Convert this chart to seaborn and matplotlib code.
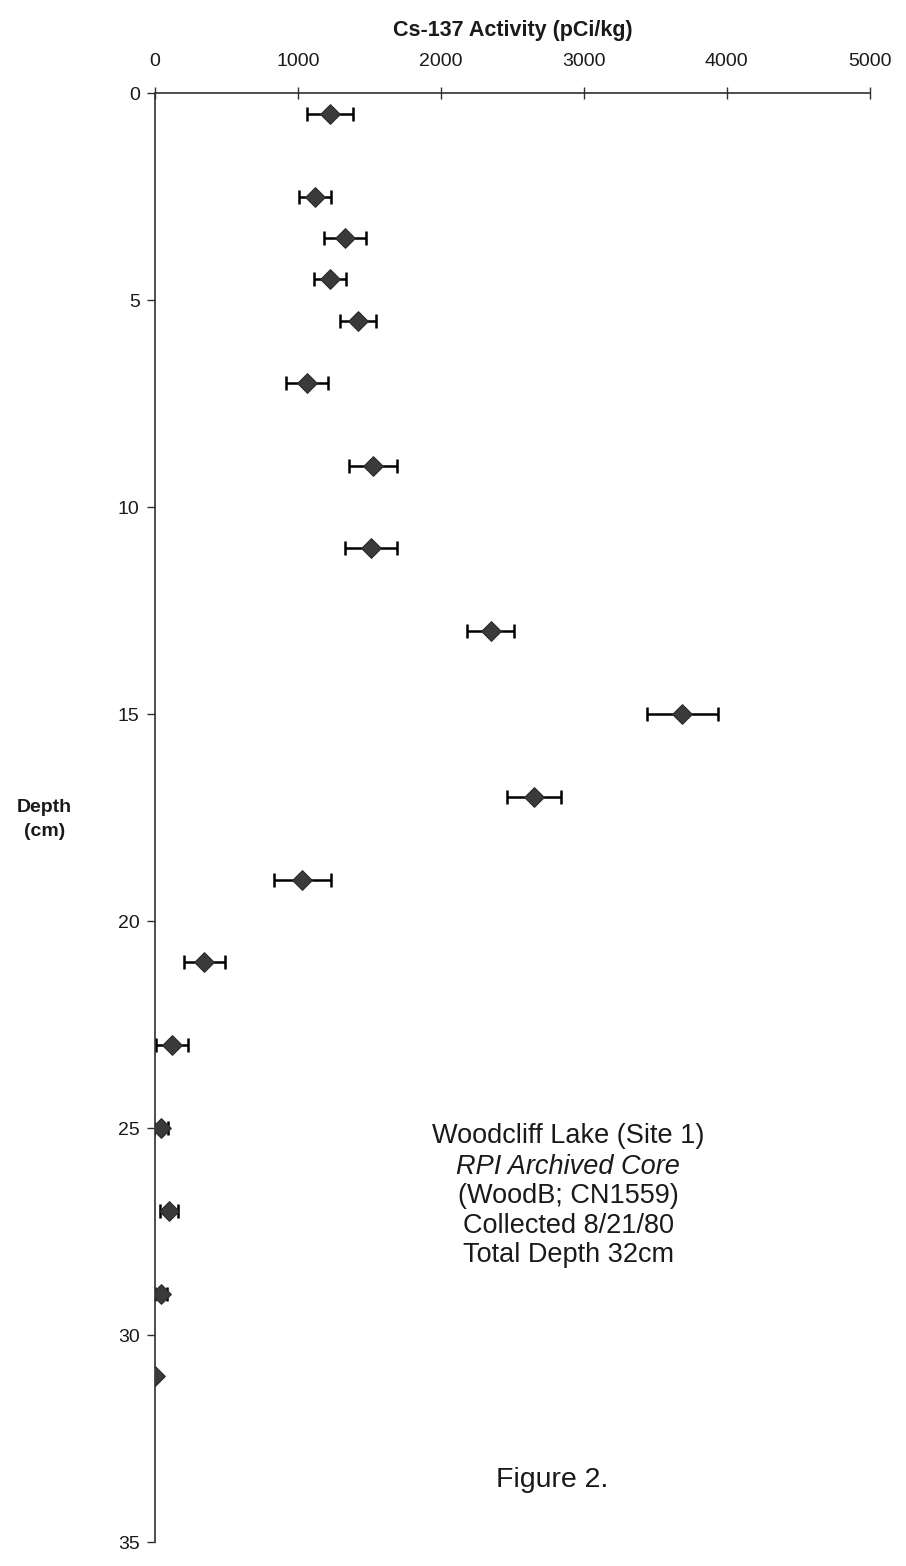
import matplotlib
matplotlib.use("Agg")
import matplotlib.pyplot as plt
import seaborn as sns
import pandas as pd

# Cs-137 activity profile for the Woodcliff Lake core
depth_cm = [0.5, 2.5, 3.5, 4.5, 5.5, 7.0, 9.0, 11.0, 13.0, 15.0, 17.0, 19.0,
            21.0, 23.0, 25.0, 27.0, 29.0, 31.0]
activity = [1225, 1120, 1330, 1225, 1420, 1065, 1525, 1510, 2350, 3690, 2650,
            1030, 345, 120, 42, 98, 42, 0]
activity_err = [160, 110, 145, 110, 125, 145, 170, 180, 165, 250, 190, 200,
                145, 110, 50, 60, 40, 10]

x_ticks = [0, 1000, 2000, 3000, 4000, 5000]
y_ticks = [0, 5, 10, 15, 20, 25, 30, 35]

note_lines = ["Woodcliff Lake (Site 1)", "RPI Archived Core", "(WoodB; CN1559)",
              "Collected 8/21/80", "Total Depth 32cm"]

df = pd.DataFrame({"depth": depth_cm, "activity": activity, "err": activity_err})

sns.set_theme(style="white")
plt.rcParams["font.family"] = ["Liberation Sans", "DejaVu Sans"]

fig = plt.figure(figsize=(9.06, 15.66), dpi=100)
ax = fig.add_axes([0.171, 0.0153, 0.789, 0.9253])

ax.errorbar(df["activity"], df["depth"], xerr=df["err"], fmt="none",
            ecolor="black", elinewidth=1.8, capsize=5, capthick=1.8, zorder=2)
sns.scatterplot(data=df, x="activity", y="depth", marker="D", s=100,
                color="#3a3a3a", edgecolor="#2a2a2a", linewidth=0.8, ax=ax, zorder=3)

ax.set_xlim(0, 5000)
ax.set_ylim(35, 0)
ax.set_xticks(x_ticks)
ax.set_yticks(y_ticks)
ax.xaxis.tick_top()
ax.xaxis.set_label_position("top")

for side in ("right", "bottom"):
    ax.spines[side].set_visible(False)
for side in ("left", "top"):
    ax.spines[side].set_color("#303030")
    ax.spines[side].set_linewidth(1.2)

ax.tick_params(axis="x", direction="inout", length=8, width=1, color="#303030",
               labelsize=14, pad=12.5, top=True, bottom=False, labelcolor="#1a1a1a")
ax.tick_params(axis="y", direction="out", length=6, width=1, color="#303030",
               labelsize=14, pad=5, left=True, labelcolor="#1a1a1a")

ax.set_xlabel("Cs-137 Activity (pCi/kg)", fontsize=15.5, fontweight="bold",
              labelpad=12, color="#1a1a1a")
ax.set_ylabel("")
fig.text(0.049, 0.4765, "Depth\n(cm)", ha="center", va="center",
         fontsize=14, fontweight="bold", linespacing=1.55, color="#1a1a1a")

note_y = [25.2, 25.93, 26.65, 27.36, 28.06]
for i, (line, yv) in enumerate(zip(note_lines, note_y)):
    ax.text(2890, yv, line, ha="center", va="center", fontsize=19.5,
            style="italic" if i == 1 else "normal", color="#1a1a1a")
ax.text(2780, 33.5, "Figure 2.", ha="center", va="center", fontsize=20.5, color="#1a1a1a")

fig.savefig("out.png", dpi=100)
